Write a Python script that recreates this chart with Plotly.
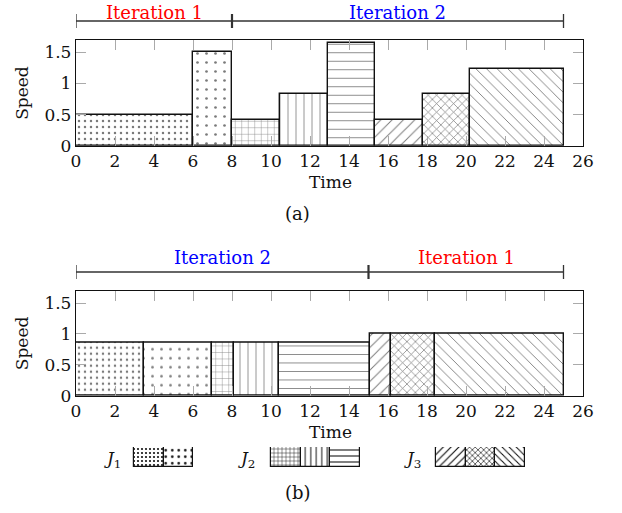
import plotly.graph_objects as go

# ---------------- data ----------------
top_start = [0, 6, 8, 10.45, 12.93, 15.35, 17.8, 20.23]
top_end = [6, 8, 10.45, 12.93, 15.35, 17.8, 20.23, 25]
top_speed = [0.5, 1.5, 0.42, 0.825, 1.65, 0.42, 0.825, 1.24]
top_style = ["J1a", "J1b", "J2a", "J2b", "J2c", "J3a", "J3b", "J3c"]

bot_start = [0, 3.48, 6.97, 8.1, 10.43, 15.06, 16.15, 18.41]
bot_end = [3.48, 6.97, 8.1, 10.43, 15.06, 16.15, 18.41, 25]
bot_speed = [0.866, 0.866, 0.866, 0.866, 0.866, 1.0, 1.0, 1.0]
bot_style = ["J1a", "J1b", "J2a", "J2b", "J2c", "J3a", "J3b", "J3c"]

top_iters = [("Iteration 1", 0, 8, "#ff0000"), ("Iteration 2", 8, 25, "#0000ff")]
bot_iters = [("Iteration 2", 0, 15, "#0000ff"), ("Iteration 1", 15, 25, "#ff0000")]

x_ticks = [0, 2, 4, 6, 8, 10, 12, 14, 16, 18, 20, 22, 24, 26]
y_ticks = [0, 0.5, 1, 1.5]

legend_groups = [("J", "1", ["J1a", "J1b"]),
                 ("J", "2", ["J2a", "J2b", "J2c"]),
                 ("J", "3", ["J3a", "J3b", "J3c"])]

# pattern styles: shape, size, solidity
STYLES = {
    "J1a": (".", 6, 0.13),
    "J1b": (".", 9, 0.07),
    "J2a": ("+", 6.5, 0.12),
    "J2b": ("|", 8, 0.1),
    "J2c": ("-", 8.5, 0.1),
    "J3a": ("/", 8, 0.12),
    "J3b": ("x", 6, 0.22),
    "J3c": ("\\", 7.5, 0.12),
}

W, H = 622, 513
FONT = "DejaVu Serif"
FS = 17


def px_x(p):
    return p / W


def px_y(p):
    return 1 - p / H


def bar_trace(starts, ends, speeds, styles, xa, ya):
    mids = [(s + e) / 2 for s, e in zip(starts, ends)]
    widths = [e - s for s, e in zip(starts, ends)]
    return go.Bar(
        x=mids, y=speeds, width=widths, xaxis=xa, yaxis=ya,
        marker=dict(
            color="white",
            line=dict(color="#111", width=1.4),
            pattern=dict(
                shape=[STYLES[s][0] for s in styles],
                size=[STYLES[s][1] for s in styles],
                solidity=[STYLES[s][2] for s in styles],
                fgcolor="#7a7a7a", bgcolor="white", fillmode="replace",
            ),
        ),
        showlegend=False, hoverinfo="skip",
    )


fig = go.Figure()
fig.add_trace(bar_trace(top_start, top_end, top_speed, top_style, "x", "y"))
fig.add_trace(bar_trace(bot_start, bot_end, bot_speed, bot_style, "x2", "y2"))

# legend boxes on a hidden pixel-unit axis
lx, ly, lw = [], [], []
leg_x0 = [134, 271, 436]
box_w = 29.5
leg_styles = []
for (name, sub, sts), x0 in zip(legend_groups, leg_x0):
    for i, s in enumerate(sts):
        lx.append(x0 + box_w * (i + 0.5))
        lw.append(box_w)
        ly.append(1)
        leg_styles.append(s)
fig.add_trace(go.Bar(
    x=lx, y=ly, width=lw, xaxis="x3", yaxis="y3",
    marker=dict(
        color="white", line=dict(color="#111", width=1.2),
        pattern=dict(shape=[STYLES[s][0] for s in leg_styles],
                     size=[max(4, STYLES[s][1] - 2.5) for s in leg_styles],
                     solidity=[min(0.3, STYLES[s][2] * 1.8) for s in leg_styles],
                     fgcolor="#111", bgcolor="white", fillmode="replace"),
    ),
    showlegend=False, hoverinfo="skip",
))

xdom = [px_x(76), px_x(583)]
top_dom = [px_y(145.7), px_y(40)]
bot_dom = [px_y(395.7), px_y(290.7)]

axis_common = dict(
    showgrid=False, zeroline=False, showline=True, linecolor="#111", linewidth=1.3,
    mirror="ticks", ticks="inside", ticklen=10, tickwidth=1.3, tickcolor="#aaa",
    tickfont=dict(family=FONT, size=FS, color="#111"), automargin=False,
)

fig.update_layout(
    width=W, height=H, autosize=False,
    margin=dict(l=0, r=0, t=0, b=0, pad=0, autoexpand=False),
    paper_bgcolor="white", plot_bgcolor="white",
    barmode="overlay", bargap=0, showlegend=False,
    xaxis=dict(domain=xdom, anchor="y", range=[0, 26], tickvals=x_ticks, **axis_common),
    yaxis=dict(domain=top_dom, anchor="x", range=[0, 1.7], tickvals=y_ticks, **axis_common),
    xaxis2=dict(domain=xdom, anchor="y2", range=[0, 26], tickvals=x_ticks, **axis_common),
    yaxis2=dict(domain=bot_dom, anchor="x2", range=[0, 1.7], tickvals=y_ticks, **axis_common),
    xaxis3=dict(domain=[0, 1], anchor="y3", range=[0, W], visible=False, automargin=False),
    yaxis3=dict(domain=[px_y(467), px_y(447)], anchor="x3", range=[0, 1], visible=False,
                automargin=False),
)

shapes = []
annotations = []


def ann(text, x, y, xref="paper", size=FS, color="#111", yanchor="middle", **kw):
    annotations.append(dict(text=text, xref=xref, yref="paper", x=x, y=y,
                            xanchor="center", yanchor=yanchor, showarrow=False,
                            font=dict(family=FONT, size=size, color=color), **kw))


def add_brackets(iters, xref, y_line, label_y, anchor):
    bounds = sorted(set([a for _, a, _, _ in iters] + [b for _, _, b, _ in iters]))
    for name, a, b, col in iters:
        shapes.append(dict(type="line", xref=xref, yref="paper", x0=a, x1=b,
                           y0=px_y(y_line), y1=px_y(y_line),
                           line=dict(color="#333", width=1.3)))
        ann(name, (a + b) / 2, px_y(label_y), xref=xref, color=col, yanchor=anchor,
            size=FS + 1)
    for i, bd in enumerate(bounds):
        inner = 0 < i < len(bounds) - 1
        shapes.append(dict(type="line", xref=xref, yref="paper", x0=bd, x1=bd,
                           y0=px_y(y_line - 7), y1=px_y(y_line + 7),
                           line=dict(color="#333", width=2.2 if inner else 1.3)))


add_brackets(top_iters, "x", 21, 0, "top")
add_brackets(bot_iters, "x2", 272, 257, "middle")

for yc in [(40 + 145.7) / 2, (290.7 + 395.7) / 2]:
    ann("Speed", px_x(22), px_y(yc), textangle=-90)
for yc in [182, 432]:
    ann("Time", px_x(330), px_y(yc))

ann("(a)", px_x(297), px_y(213), size=FS + 1)
ann("(b)", px_x(298), px_y(492), size=FS + 1)

label_x = [112, 246, 412]
for (name, sub, _), lxp in zip(legend_groups, label_x):
    ann(f"<i>{name}</i><sub>{sub}</sub>", px_x(lxp), px_y(459))

fig.update_layout(shapes=shapes, annotations=annotations)
fig.write_html(
    "out.html",
    post_script="document.body.style.margin='0';document.body.style.overflow='hidden';",
)
